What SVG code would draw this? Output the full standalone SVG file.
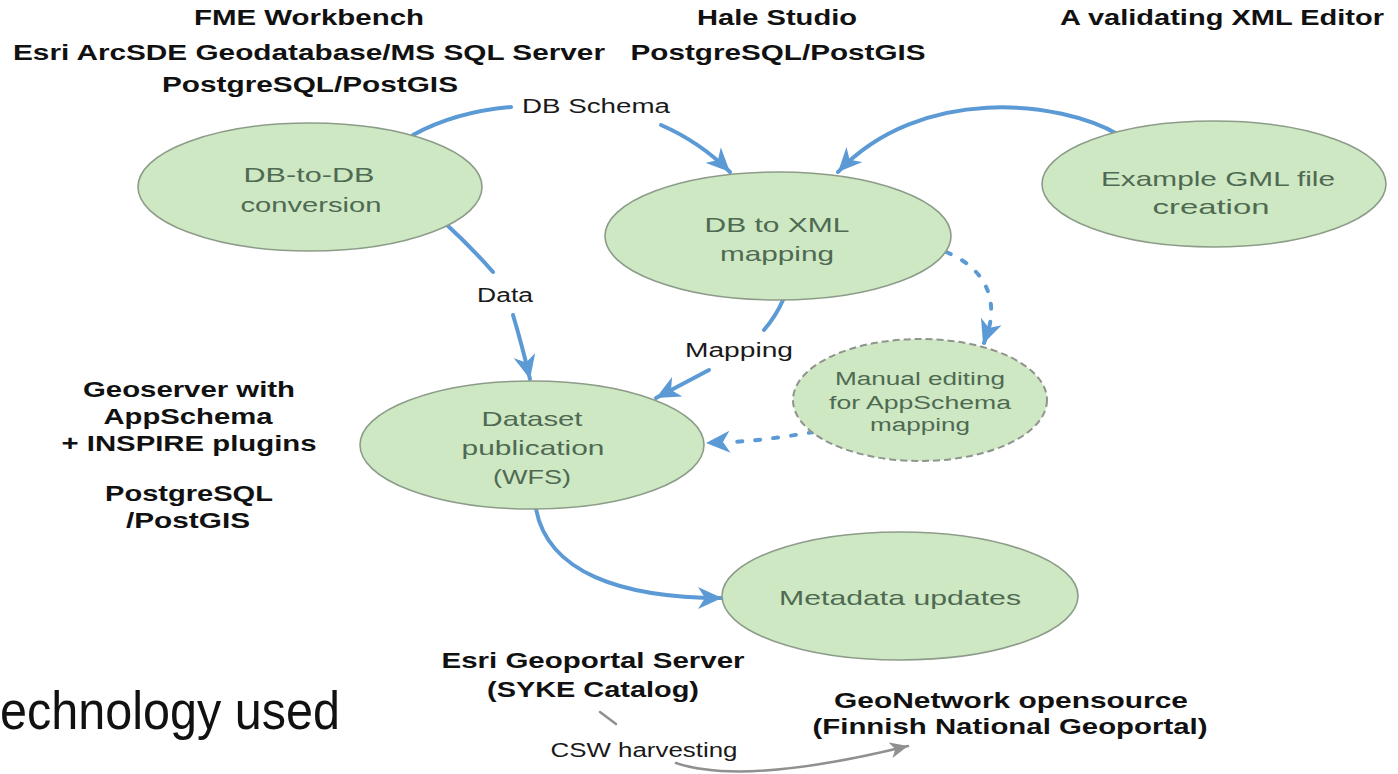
<svg xmlns="http://www.w3.org/2000/svg" width="1398" height="774" viewBox="0 0 1398 774">
<style>
.bg{fill:#ffffff}
.node{fill:#cde8c3;stroke:#8d9c89;stroke-width:1.6}
.dnode{fill:#cde8c3;stroke:#8f948d;stroke-width:2;stroke-dasharray:7 4}
.nt{font-family:"Liberation Sans",Arial,sans-serif;font-size:21px;fill:#4f6a52;text-anchor:middle}
.mt{font-family:"Liberation Sans",Arial,sans-serif;font-size:18px;fill:#4f6a52;text-anchor:middle}
.bl{font-family:"Liberation Sans",Arial,sans-serif;font-size:22px;font-weight:bold;fill:#111;text-anchor:middle}
.cl{font-family:"Liberation Sans",Arial,sans-serif;font-size:20px;fill:#1a1a1a;text-anchor:middle}
.ed{fill:none;stroke:#5b9ad4;stroke-width:4;stroke-linecap:round}
.dot{fill:none;stroke:#5b9ad4;stroke-width:4;stroke-linecap:round;stroke-dasharray:5 13}
.gr{fill:none;stroke:#909090;stroke-width:2.5;stroke-linecap:round}
</style>
<defs>
<marker id="ab" markerUnits="userSpaceOnUse" markerWidth="26" markerHeight="22" refX="24" refY="11" orient="auto" viewBox="0 0 26 22">
<path d="M0,0 L24,11 L0,22 L7,11 Z" fill="#5b9ad4"/>
</marker>
<marker id="ag" markerUnits="userSpaceOnUse" markerWidth="20" markerHeight="16" refX="18" refY="8" orient="auto" viewBox="0 0 20 16">
<path d="M0,0 L18,8 L0,16 L5,8 Z" fill="#909090"/>
</marker>
</defs>
<rect class="bg" x="0" y="0" width="1398" height="774"/>

<g id="connectors">
<path class="ed" d="M413,135 Q455,112 511,107"/>
<path class="ed" d="M661,125 Q700,142 730,172" marker-end="url(#ab)"/>
<path class="ed" d="M1119,135 C1060,100 920,85 838,172" marker-end="url(#ab)"/>
<path class="ed" d="M447,225 Q472,248 493,272"/>
<path class="ed" d="M513,315 Q522,345 530,379" marker-end="url(#ab)"/>
<path class="ed" d="M783,300 Q776,316 764,330"/>
<path class="ed" d="M709,370 L656,398" marker-end="url(#ab)"/>
<path class="dot" d="M946,252 C985,268 1002,300 984,343"/>
<path class="ed" d="M990,325 L983,344" marker-end="url(#ab)" stroke-opacity="0"/>
<path class="dot" d="M814,432 Q760,441 730,442"/>
<path class="ed" d="M725,442 L706,443" marker-end="url(#ab)" stroke-opacity="0"/>
<path class="ed" d="M536,509 C548,572 620,598 722,598" marker-end="url(#ab)"/>
<path class="gr" d="M600,712 L616,724"/>
<path class="gr" d="M676,763 Q745,786 908,746" marker-end="url(#ag)"/>
</g>

<g id="n-dbdb">
<ellipse class="node" cx="310" cy="187" rx="172" ry="64"/>
<text class="nt" x="309" y="182" textLength="131" lengthAdjust="spacingAndGlyphs">DB-to-DB</text>
<text class="nt" x="311" y="212" textLength="141" lengthAdjust="spacingAndGlyphs">conversion</text>
</g>
<g id="n-dbxml">
<ellipse class="node" cx="778" cy="236" rx="173" ry="64"/>
<text class="nt" x="777" y="232" textLength="145" lengthAdjust="spacingAndGlyphs">DB to XML</text>
<text class="nt" x="777" y="261" textLength="114" lengthAdjust="spacingAndGlyphs">mapping</text>
</g>
<g id="n-gml">
<ellipse class="node" cx="1214" cy="184" rx="172" ry="63"/>
<text class="nt" x="1218" y="186" textLength="234" lengthAdjust="spacingAndGlyphs">Example GML file</text>
<text class="nt" x="1211" y="214" textLength="117" lengthAdjust="spacingAndGlyphs">creation</text>
</g>
<g id="n-dataset">
<ellipse class="node" cx="532" cy="445" rx="172" ry="64"/>
<text class="nt" x="532" y="426" textLength="101" lengthAdjust="spacingAndGlyphs">Dataset</text>
<text class="nt" x="533" y="455" textLength="143" lengthAdjust="spacingAndGlyphs">publication</text>
<text class="nt" x="532" y="484" textLength="78" lengthAdjust="spacingAndGlyphs">(WFS)</text>
</g>
<g id="n-manual">
<ellipse class="dnode" cx="920" cy="400" rx="127" ry="61"/>
<text class="mt" x="920" y="385" textLength="170" lengthAdjust="spacingAndGlyphs">Manual editing</text>
<text class="mt" x="920" y="409" textLength="182" lengthAdjust="spacingAndGlyphs">for AppSchema</text>
<text class="mt" x="920" y="431" textLength="100" lengthAdjust="spacingAndGlyphs">mapping</text>
</g>
<g id="n-metadata">
<ellipse class="node" cx="900" cy="596" rx="178" ry="64"/>
<text class="nt" x="900" y="605" textLength="242" lengthAdjust="spacingAndGlyphs">Metadata updates</text>
</g>

<g id="edge-labels">
<text class="cl" x="596" y="113" textLength="148" lengthAdjust="spacingAndGlyphs">DB Schema</text>
<text class="cl" x="505" y="302" textLength="56" lengthAdjust="spacingAndGlyphs">Data</text>
<text class="cl" x="739" y="357" textLength="108" lengthAdjust="spacingAndGlyphs">Mapping</text>
<text class="cl" x="644" y="757" textLength="187" lengthAdjust="spacingAndGlyphs">CSW harvesting</text>
</g>

<g id="tech-labels">
<text class="bl" x="309" y="25" textLength="230" lengthAdjust="spacingAndGlyphs">FME Workbench</text>
<text class="bl" x="309" y="60" textLength="592" lengthAdjust="spacingAndGlyphs">Esri ArcSDE Geodatabase/MS SQL Server</text>
<text class="bl" x="310" y="92" textLength="296" lengthAdjust="spacingAndGlyphs">PostgreSQL/PostGIS</text>
<text class="bl" x="777" y="25" textLength="160" lengthAdjust="spacingAndGlyphs">Hale Studio</text>
<text class="bl" x="778" y="60" textLength="295" lengthAdjust="spacingAndGlyphs">PostgreSQL/PostGIS</text>
<text class="bl" x="1222" y="25" textLength="324" lengthAdjust="spacingAndGlyphs">A validating XML Editor</text>
<text class="bl" x="189" y="397" textLength="212" lengthAdjust="spacingAndGlyphs">Geoserver with</text>
<text class="bl" x="188" y="424" textLength="169" lengthAdjust="spacingAndGlyphs">AppSchema</text>
<text class="bl" x="189" y="451" textLength="255" lengthAdjust="spacingAndGlyphs">+ INSPIRE plugins</text>
<text class="bl" x="189" y="501" textLength="168" lengthAdjust="spacingAndGlyphs">PostgreSQL</text>
<text class="bl" x="188" y="528" textLength="124" lengthAdjust="spacingAndGlyphs">/PostGIS</text>
<text class="bl" x="593" y="668" textLength="303" lengthAdjust="spacingAndGlyphs">Esri Geoportal Server</text>
<text class="bl" x="593" y="697" textLength="212" lengthAdjust="spacingAndGlyphs">(SYKE Catalog)</text>
<text class="bl" x="1011" y="708" textLength="354" lengthAdjust="spacingAndGlyphs">GeoNetwork opensource</text>
<text class="bl" x="1010" y="734" textLength="395" lengthAdjust="spacingAndGlyphs">(Finnish National Geoportal)</text>
</g>

<text x="0" y="729" font-family="'Liberation Sans',Arial,sans-serif" font-size="54" fill="#111" textLength="340" lengthAdjust="spacingAndGlyphs">echnology used</text>
</svg>
